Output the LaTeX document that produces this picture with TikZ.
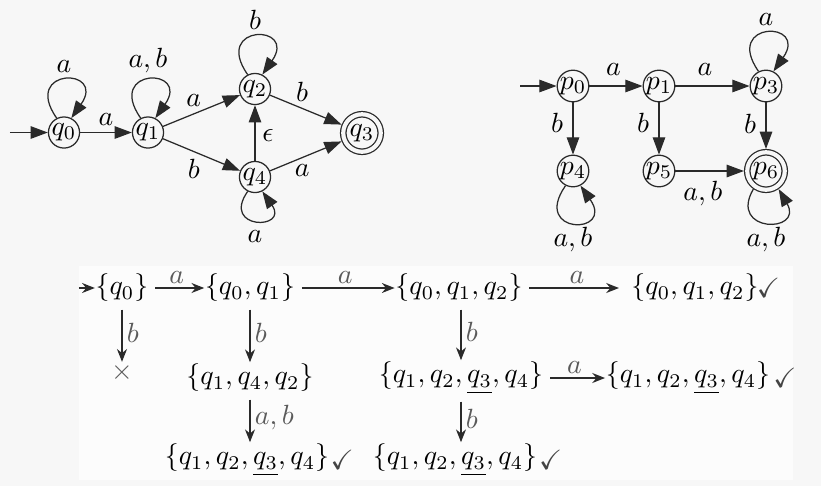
\documentclass[tikz,border=0pt]{standalone}
\usepackage{amssymb}
\usetikzlibrary{arrows.meta}
\definecolor{bg}{HTML}{F7F7F7}
\definecolor{panel}{HTML}{FCFCFC}
\definecolor{lblc}{HTML}{5A5A5A}
\definecolor{lnc}{HTML}{2A2A2A}
\definecolor{chk}{HTML}{444444}
\begin{document}
\begin{tikzpicture}[x=0.36pt,y=-0.36pt,
  st/.style={draw=lnc, line width=0.45pt, circle, inner sep=0pt, minimum size=11.2pt, text=black},
  acc/.style={st, double=bg, double distance=1.5pt, minimum size=13.5pt, outer sep=1.2pt},
  tarr/.style={draw=lnc, line width=0.45pt, -{Triangle[length=6.2pt,width=4.5pt]}},
  tl/.style={inner sep=2.4pt, text=black},
  dl/.style={inner sep=3.4pt, text=black},
  set/.style={inner sep=0pt, outer sep=0pt, text=black},
  harr/.style={draw=lnc, line width=0.5pt, -{Stealth[length=4.6pt,width=3.6pt]}, shorten <=2.5pt, shorten >=0.3pt},
  varr/.style={draw=lnc, line width=0.5pt, -{Stealth[length=4.6pt,width=3.6pt]}, shorten <=2.8pt, shorten >=0.7pt},
  el/.style={text=lblc, inner sep=1.5pt},
  chkl/.style={label={[text=chk, inner sep=0pt, label distance=#1]right:{$\checkmark$}}}
]
\fill[bg] (0,0) rectangle (821,486);
\useasboundingbox (0,0) rectangle (821,486);
\fill[panel] (79,266) rectangle (793,480);

% NFA
\node[st] (q0) at (64,132.5) {$q_0$};
\node[st] (q1) at (148,132.5) {$q_1$};
\node[st] (q2) at (255,89) {$q_2$};
\node[st] (q4) at (255,177) {$q_4$};
\node[acc] (q3) at (362,133) {$q_3$};
\coordinate (qi) at (10,132.5);
\draw[tarr] (qi) -- (q0);
\draw[tarr] (q0) -- node[tl,above]{$a$} (q1);
\draw[tarr] (q1) -- node[tl,above,pos=.4]{$a$} (q2);
\draw[tarr] (q1) -- node[tl,below,pos=.4]{$b$} (q4);
\draw[tarr] (q4) -- node[tl,right,pos=.45]{$\epsilon$} (q2);
\draw[tarr] (q2) -- node[tl,above,pos=.45]{$b$} (q3);
\draw[tarr] (q4) -- node[tl,below,pos=.45]{$a$} (q3);
\draw[tarr] (q0.117) .. controls +(125:22.4pt) and +(55:22.4pt) .. node[tl,above]{$a$} (q0.63);
\draw[tarr] (q1.117) .. controls +(125:22.4pt) and +(55:22.4pt) .. node[tl,above]{$a, b$} (q1.63);
\draw[tarr] (q2.117) .. controls +(125:22.4pt) and +(55:22.4pt) .. node[tl,above]{$b$} (q2.63);
\draw[tarr] (q4.243) .. controls +(235:17pt) and +(305:17pt) .. node[inner sep=3.5pt,below]{$a$} (q4.297);

% DFA
\node[st] (p0) at (573,86) {$p_0$};
\node[st] (p1) at (659,86) {$p_1$};
\node[st] (p3) at (766,86) {$p_3$};
\node[st] (p4) at (573,171) {$p_4$};
\node[st] (p5) at (659,171) {$p_5$};
\node[acc] (p6) at (766,171) {$p_6$};
\coordinate (pi) at (520,86);
\draw[tarr] (pi) -- (p0);
\draw[tarr] (p0) -- node[dl,above,pos=.45]{$a$} (p1);
\draw[tarr] (p1) -- node[dl,above,pos=.4]{$a$} (p3);
\draw[tarr] (p0) -- node[dl,left,pos=.4]{$b$} (p4);
\draw[tarr] (p1) -- node[dl,left,pos=.4]{$b$} (p5);
\draw[tarr] (p3) -- node[dl,left,pos=.45]{$b$} (p6);
\draw[tarr] (p5) -- node[dl,below,pos=.4]{$a, b$} (p6);
\draw[tarr] (p3.117) .. controls +(125:22.4pt) and +(55:22.4pt) .. node[tl,above]{$a$} (p3.63);
\draw[tarr] (p4.243) .. controls +(235:21.8pt) and +(305:21.8pt) .. node[inner sep=1.4pt,below]{$a, b$} (p4.297);
\draw[tarr] (p6.235) .. controls +(240:18.4pt) and +(300:18.4pt) .. node[inner sep=1.4pt,below]{$a, b$} (p6.305);

% subset construction
\node[set] (s0) at (122,288) {$\{q_0\}$};
\node[set] (s1) at (250,288) {$\{q_0, q_1\}$};
\node[set] (s2) at (459,288) {$\{q_0, q_1, q_2\}$};
\node[set, chkl=-0.8pt] (s3) at (695,288) {$\{q_0, q_1, q_2\}$};
\node[set, text=lblc] (x0) at (122,373) {$\times$};
\node[set] (s4) at (250,378) {$\{q_1, q_4, q_2\}$};
\node[set, chkl=0.3pt] (s5) at (247,460) {$\{q_1, q_2, \underline{q_3}, q_4\}$};
\node[set] (s6) at (461,378) {$\{q_1, q_2, \underline{q_3}, q_4\}$};
\node[set, chkl=1pt] (s7) at (688,378) {$\{q_1, q_2, \underline{q_3}, q_4\}$};
\node[set, chkl=0.5pt] (s8) at (455,460) {$\{q_1, q_2, \underline{q_3}, q_4\}$};
\coordinate (si) at (79,288);
\draw[harr, shorten <=0pt] (si) -- (s0);
\draw[harr] (s0) -- node[el,above]{$a$} (s1);
\draw[harr] (s1) -- node[el,above]{$a$} (s2);
\draw[harr, shorten >=4.5pt] (s2) -- node[el,above]{$a$} (s3);
\draw[harr] (s6) -- node[el,above]{$a$} (s7);
\draw[varr] (s0) -- node[el,right]{$b$} (x0);
\draw[varr] (s1) -- node[el,right]{$b$} (s4);
\draw[varr] (s4) -- node[el,right]{$a, b$} (s5.north -| s4);
\draw[varr] (s2.south -| s6) -- node[el,right]{$b$} (s6);
\draw[varr] (s6) -- node[el,right]{$b$} (s8.north -| s6);
\end{tikzpicture}
\end{document}
